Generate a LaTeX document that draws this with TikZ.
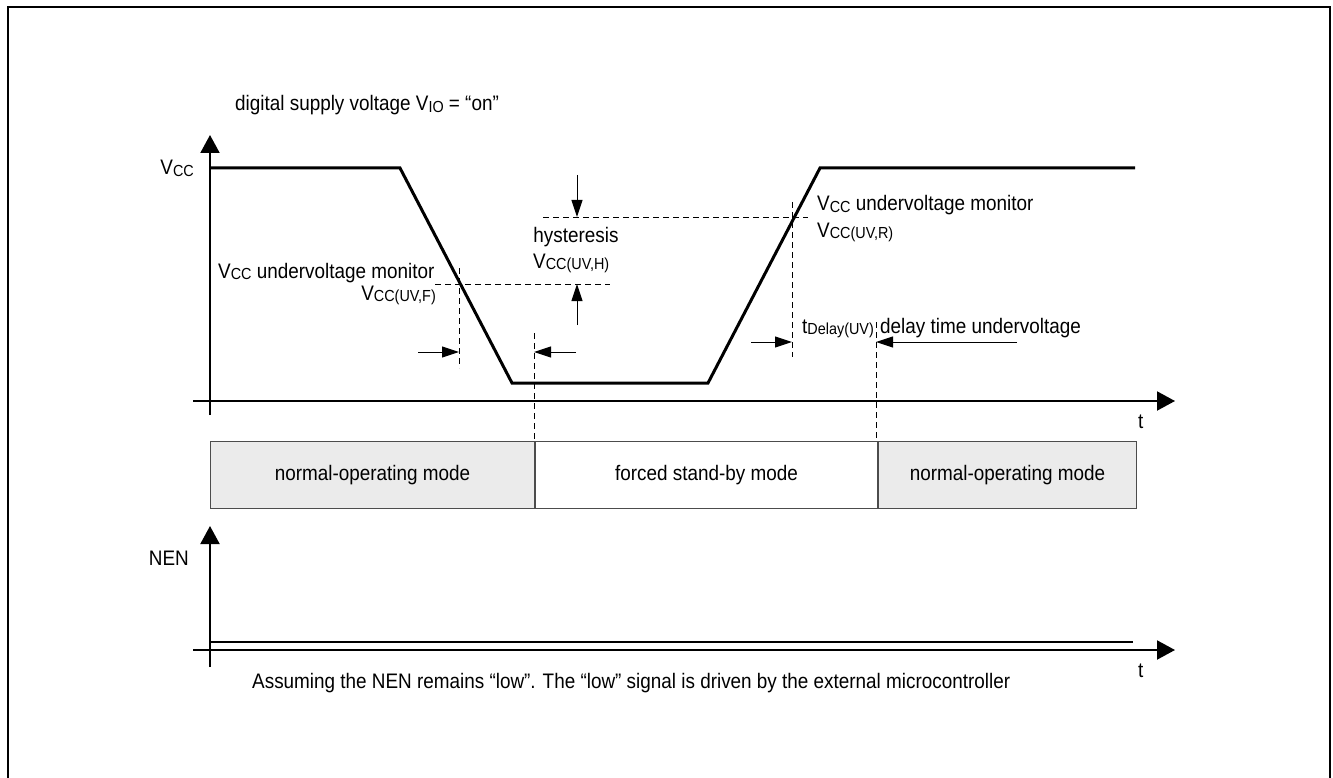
\documentclass[tikz,border=0pt]{standalone}
\usepackage{fontspec}
\setmainfont{Liberation Sans}[FakeStretch=0.9]
\usetikzlibrary{arrows.meta,positioning}
\newcommand{\lsub}[1]{\raisebox{-0.15ex}{\fontsize{16}{16}\selectfont #1}}

\begin{document}
\begin{tikzpicture}[x=1pt, y=-1pt, font=\fontsize{21}{23}\selectfont,
  axis/.style = {line width=2pt, -{Triangle[length=18pt,width=19pt]}},
  sig/.style = {line width=3pt, line join=miter},
  guide/.style = {line width=0.9pt, dash pattern=on 6pt off 4pt},
  dimarrow/.style = {line width=1pt, -{Triangle[length=17pt,width=11pt]}},
  modebox/.style = {draw=black!70, line width=1pt, minimum height=67pt, inner sep=0pt, anchor=west},
  lbl/.style = {inner sep=0pt}]
    \useasboundingbox (0,0) rectangle (1333,778);
    \draw[line width=2pt] (8,790) -- (8,7) -- (1330,7) -- (1330,790);

    % V_CC diagram
    \coordinate (vbot) at (210,415);
    \coordinate (vtop) at (210,135);
    \coordinate (tstart) at (193,401);
    \coordinate (tend) at (1175,401);
    \draw[axis] (vbot) -- (vtop);
    \draw[axis] (tstart) -- (tend);
    \node[lbl, anchor=base west] (supply) at (235,111) {digital supply voltage V\lsub{IO} = “on”};
    \node[lbl, anchor=base east] (vcc) at (194,175) {V\lsub{CC}};
    \node[lbl, anchor=base west] (t1) at (1138,428) {t};

    \coordinate (s0) at (210,168);
    \coordinate (s1) at (400,168);
    \coordinate (s2) at (512,383);
    \coordinate (s3) at (708,383);
    \coordinate (s4) at (820,168);
    \coordinate (s5) at (1135,168);
    \draw[sig] (s0) -- (s1) -- (s2) -- (s3) -- (s4) -- (s5);

    % falling threshold
    \draw[guide] (435,284) -- (610,284);
    \draw[guide] (459,268) -- (459,368);
    \draw[guide] (534,333) -- (534,442);
    \draw[dimarrow] (418,352) -- (459,352);
    \draw[dimarrow] (576,352) -- (534,352);
    \node[lbl, anchor=base west] (monf) at (218,278) {V\lsub{CC} undervoltage monitor};
    \node[lbl, anchor=base east] (uvf) at (436,300) {V\lsub{CC(UV,F)}};

    % hysteresis
    \draw[guide] (543,217) -- (808,217);
    \draw[dimarrow] (577,175) -- (577,217);
    \draw[dimarrow] (577,325) -- (577,284);
    \node[lbl, anchor=base] (hyst) at (576,243) {hysteresis};
    \node[lbl, anchor=base west] (uvh) at (533,268) {V\lsub{CC(UV,H)}};

    % rising threshold and delay
    \draw[guide] (792,202) -- (792,357);
    \draw[guide] (876,322) -- (876,442);
    \draw[dimarrow] (751,342) -- (792,342);
    \draw[dimarrow] (1017,342) -- (876,342);
    \node[lbl, anchor=base west] (monr) at (817,211) {V\lsub{CC} undervoltage monitor};
    \node[lbl, anchor=base west] (uvr) at (817,237) {V\lsub{CC(UV,R)}};
    \node[lbl, anchor=base west] (tdel) at (802,333) {t\lsub{Delay(UV)}};
    \node[lbl, anchor=base west] (deltxt) at (880,333) {delay time undervoltage};

    % modes
    \node[modebox, fill=black!8, minimum width=324pt] (mode1) at (210,475) {normal-operating mode};
    \node[modebox, fill=white, minimum width=342pt, right=0pt of mode1] (mode2) {forced stand-by mode};
    \node[modebox, fill=black!8, minimum width=258pt, right=0pt of mode2] (mode3) {normal-operating mode};

    % NEN diagram
    \coordinate (nbot) at (210,667);
    \coordinate (ntop) at (210,526);
    \coordinate (nstart) at (193,650);
    \coordinate (nend) at (1175,650);
    \coordinate (n0) at (210,642);
    \coordinate (n1) at (1133,642);
    \draw[axis] (nbot) -- (ntop);
    \draw[axis] (nstart) -- (nend);
    \draw[line width=2pt] (n0) -- (n1);
    \node[lbl, anchor=base east] (nen) at (189,565) {NEN};
    \node[lbl, anchor=base west] (t2) at (1138,677) {t};
    \node[lbl, anchor=base west] (note) at (252,688) {Assuming the NEN remains “low”. The “low” signal is driven by the external microcontroller};
\end{tikzpicture}
\end{document}
